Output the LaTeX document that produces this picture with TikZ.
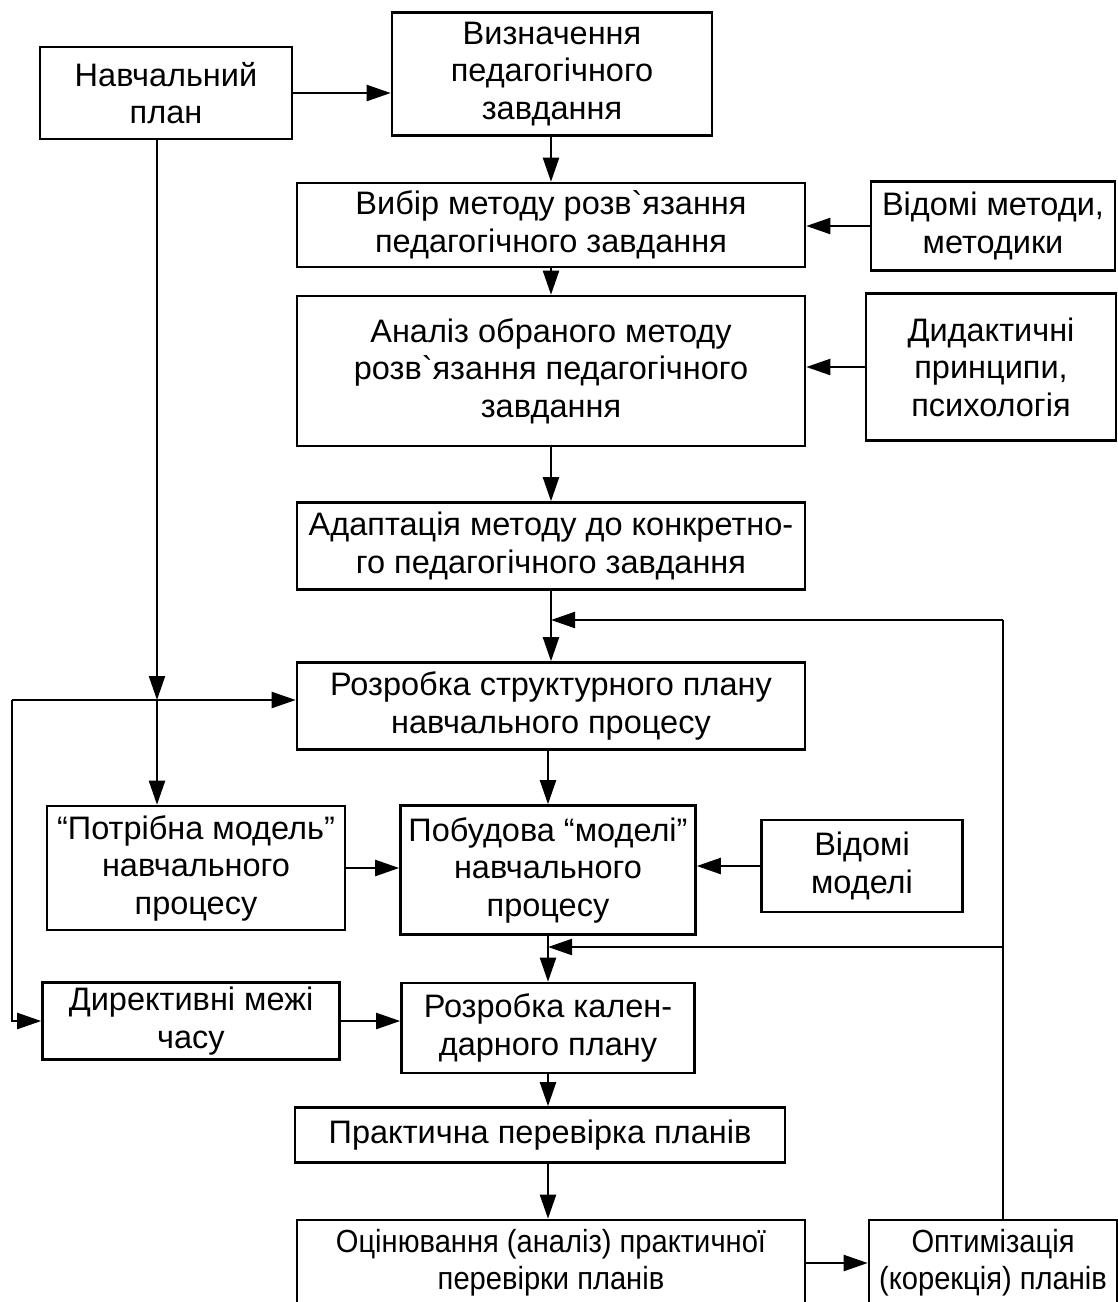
\documentclass[tikz,border=0pt]{standalone}
\usepackage{fontspec}
\setmainfont{Liberation Sans}[Ligatures=TeXOff]
\newfontfamily\narrowfont{Liberation Sans}[FakeStretch=0.91]
\usetikzlibrary{arrows.meta}

\begin{document}
\begin{tikzpicture}[x=1pt,y=-1pt,
  box/.style={draw, line width=2.6pt, align=center, inner sep=0pt,
    font=\fontsize{32.5}{37.5}\selectfont},
  narrowbox/.style={box, font=\narrowfont\fontsize{32}{37}\selectfont}]


% GLOBAL SETTINGS
\useasboundingbox (0,0) rectangle (1118,1302);
\pgfkeys{/tikz/every path/.style={line width=2.2pt}} % connector width
\tikzset{>={Triangle[length=24pt,width=16pt]}}

% MAIN COLUMN
\node[box, minimum width=320, minimum height=123] (def) at (552,74) {Визначення\\педагогічного\\завдання};
\node[box, minimum width=508, minimum height=84] (choice) at (551,225) {Вибір методу розв`язання\\педагогічного завдання};
\node[box, minimum width=508, minimum height=150] (anal) at (551,371) {Аналіз обраного методу\\розв`язання педагогічного\\завдання};
\node[box, minimum width=508, minimum height=87] (adapt) at (551,546) {Адаптація методу до конкретно-\\го педагогічного завдання};
\node[box, minimum width=508, minimum height=87] (struct) at (551,706) {Розробка структурного плану\\навчального процесу};
\node[box, minimum width=295, minimum height=129] (build) at (548,870) {Побудова “моделі”\\навчального\\процесу};
\node[box, minimum width=293, minimum height=90] (cal) at (548,1028) {Розробка кален-\\дарного плану};
\node[box, minimum width=490, minimum height=55] (prac) at (540,1135) {Практична перевірка планів};
\node[narrowbox, minimum width=508, minimum height=86] (eval) at (551,1263) {Оцінювання (аналіз) практичної\\перевірки планів};

% SIDE BOXES
\node[box, minimum width=252, minimum height=92] (nav) at (166,93) {Навчальний\\план};
\node[box, minimum width=244, minimum height=89] (knownm) at (993,226) {Відомі методи,\\методики};
\node[box, minimum width=250, minimum height=147] (didac) at (991,367) {Дидактичні\\принципи,\\психологія};
\node[box, minimum width=298, minimum height=124] (need) at (196,868) {“Потрібна модель”\\навчального\\процесу};
\node[box, minimum width=201, minimum height=92] (knownmod) at (862,866) {Відомі\\моделі};
\node[box, minimum width=297, minimum height=77] (dir) at (191,1021) {Директивні межі\\часу};
\node[narrowbox, minimum width=248, minimum height=86] (opt) at (993,1263) {Оптимізація\\(корекція) планів};

% helper coordinates
\coordinate (jn) at (157,700);
\coordinate (lc) at (12,700);
\coordinate (fbtop) at (1003,620);
\coordinate (fbmid) at (1003,947);


% EDGES
\draw[->] (nav.east) -- (nav.east -| def.west);
\draw[->] (def.south -| choice) -- (choice.north);
\draw[->] (knownm.west) -- (knownm.west -| choice.east);
\draw[->] (choice) -- (anal);
\draw[->] (didac.west) -- (didac.west -| anal.east);
\draw[->] (anal) -- (adapt);
\draw[->] (adapt) -- (struct);
\draw[->] (struct.south -| build) -- (build.north);
\draw[->] (need.east) -- (need.east -| build.west);
\draw[->] (knownmod.west) -- (knownmod.west -| build.east);
\draw[->] (build) -- (cal);
\draw[->] (dir.east) -- (dir.east -| cal.west);
\draw[->] (cal) -- (cal |- prac.north);
\draw[->] (prac.south -| cal) -- (cal |- eval.north);
\draw[->] (eval.east) -- (eval.east -| opt.west);
% left branch
\draw[->] (nav.south -| jn) -- (jn);
\draw[->] (jn) -- (jn |- need.north);
\draw[->] (lc) -- (jn -| struct.west);
\draw[->] (lc) |- (dir.west);
% feedback
\draw (opt.north -| fbtop) -- (fbtop);
\draw[->] (fbtop) -- (fbtop -| adapt);
\draw[->] (fbmid) -- (fbmid -| build);

\end{tikzpicture}
\end{document}
